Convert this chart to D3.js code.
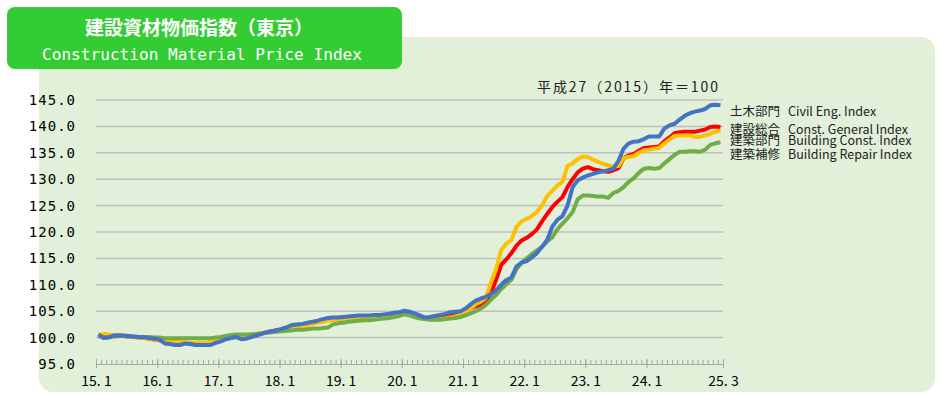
<!DOCTYPE html>
<html>
<head>
<meta charset="utf-8">
<script src="https://cdn.jsdelivr.net/npm/d3@7"></script>
<style>
  body { margin: 0; background: #fff; }
  svg { display: block; }
</style>
</head>
<body>
<script>
// monthly index, 2015.1 - 2025.3 (2015 = 100)
const startYear = 2015;
const monthCount = 123;

const civil = [
  100.6, 99.9, 100.0, 100.4, 100.4, 100.4, 100.3, 100.2, 100.1, 100.1, 99.9, 99.8,
  99.6, 98.9, 98.8, 98.6, 98.6, 98.9, 98.8, 98.6, 98.6, 98.6, 98.6, 99.0,
  99.3, 99.7, 99.9, 100.1, 99.7, 99.8, 100.1, 100.4, 100.7, 101.0, 101.2, 101.4,
  101.7, 102.0, 102.4, 102.5, 102.6, 102.8, 103.0, 103.2, 103.5, 103.7, 103.8, 103.8,
  103.9, 104.0, 104.1, 104.2, 104.2, 104.2, 104.3, 104.3, 104.4, 104.5, 104.7, 104.8,
  105.1, 104.9, 104.6, 104.2, 103.8, 103.9, 104.1, 104.3, 104.5, 104.8, 104.9, 105.0,
  105.5, 106.3, 107.0, 107.4, 107.7, 108.3, 109.0, 110.0, 110.9, 111.4, 113.5, 114.2,
  114.5, 115.2, 116.0, 117.2, 118.5, 121.0, 122.3, 123.0, 125.0, 128.5, 129.8, 130.3,
  130.7, 131.0, 131.3, 131.5, 131.7, 132.0, 133.5, 135.8, 136.8, 137.1, 137.2, 137.6,
  138.1, 138.1, 138.1, 139.6, 140.2, 140.5, 141.3, 142.0, 142.5, 142.8, 143.0, 143.3,
  144.0, 144.1, 144.0
];

const general = [
  100.5, 100.3, 100.3, 100.4, 100.4, 100.3, 100.2, 100.1, 100.0, 99.9, 99.8, 99.6,
  99.5, 99.2, 99.1, 99.1, 99.0, 99.0, 98.9, 98.9, 98.9, 98.9, 99.0, 99.2,
  99.5, 99.8, 100.0, 100.2, 100.3, 100.3, 100.5, 100.7, 100.8, 101.0, 101.2, 101.4,
  101.5, 101.8, 102.1, 102.3, 102.4, 102.6, 102.8, 103.0, 103.2, 103.4, 103.5, 103.6,
  103.7, 103.8, 103.9, 104.0, 104.0, 104.1, 104.1, 104.2, 104.2, 104.4, 104.5, 104.7,
  104.9, 104.7, 104.4, 104.0, 103.7, 103.7, 103.7, 103.8, 103.9, 104.1, 104.3, 104.6,
  105.2, 105.6, 105.9, 106.2, 106.6, 108.5, 111.0, 113.8, 114.8, 116.0, 117.4, 118.4,
  118.9, 119.6, 120.5, 122.0, 123.4, 124.7, 125.7, 126.6, 128.5, 130.0, 131.3, 132.0,
  132.3, 131.9, 131.7, 131.5, 131.4, 131.7, 132.1, 134.0, 134.5, 134.8, 135.4, 135.9,
  136.0, 136.1, 136.2, 137.2, 137.9, 138.7, 138.9, 139.0, 139.0, 139.0, 139.2, 139.4,
  139.9, 140.0, 139.9
];

const building = [
  100.5, 100.7, 100.6, 100.4, 100.4, 100.3, 100.2, 100.1, 100.0, 99.9, 99.8, 99.6,
  99.5, 99.3, 99.3, 99.3, 99.2, 99.1, 99.0, 99.0, 99.0, 99.0, 99.1, 99.3,
  99.6, 99.9, 100.1, 100.3, 100.4, 100.5, 100.6, 100.7, 100.8, 100.9, 101.1, 101.3,
  101.4, 101.7, 102.0, 102.2, 102.3, 102.4, 102.6, 102.8, 103.0, 103.2, 103.3, 103.4,
  103.5, 103.6, 103.7, 103.8, 103.8, 103.9, 103.9, 104.0, 104.0, 104.2, 104.3, 104.5,
  104.7, 104.5, 104.2, 103.9, 103.6, 103.5, 103.4, 103.5, 103.6, 103.8, 104.0, 104.3,
  105.0, 105.6, 106.3, 106.8, 107.5, 110.5, 113.0, 116.6, 117.8, 118.5, 121.0, 122.0,
  122.5, 123.0, 123.8, 125.0, 126.8, 127.8, 128.8, 129.5, 132.5, 133.0, 133.8, 134.3,
  134.2, 133.7, 133.3, 132.9, 132.6, 132.4, 132.5, 134.0, 134.2, 134.4, 135.0, 135.5,
  135.6, 135.8, 135.9, 136.8, 137.5, 138.2, 138.3, 138.3, 138.3, 138.0, 138.0, 138.3,
  138.6, 139.0, 139.2
];

const repair = [
  100.2, 100.1, 100.1, 100.2, 100.3, 100.3, 100.2, 100.1, 100.1, 100.0, 100.1, 100.0,
  100.0, 99.9, 99.9, 99.9, 99.9, 99.9, 99.9, 99.9, 99.9, 99.9, 99.9, 100.0,
  100.1, 100.3, 100.5, 100.6, 100.6, 100.6, 100.6, 100.7, 100.8, 100.9, 101.0, 101.1,
  101.2, 101.3, 101.4, 101.5, 101.5, 101.6, 101.7, 101.7, 101.8, 101.9, 102.5, 102.7,
  102.8, 103.0, 103.1, 103.2, 103.3, 103.3, 103.4, 103.5, 103.6, 103.7, 103.9, 104.1,
  104.4, 104.2, 103.9, 103.6, 103.5, 103.4, 103.4, 103.4, 103.5, 103.6, 103.7, 103.9,
  104.2, 104.6, 105.0, 105.5, 106.2, 107.2, 108.1, 109.2, 110.1, 111.0, 113.0, 114.2,
  115.0, 115.8, 116.5, 117.2, 118.2, 119.0, 120.5, 121.6, 122.6, 123.8, 126.2, 126.9,
  126.9, 126.8, 126.7, 126.7, 126.5, 127.4, 127.8, 128.5, 129.5, 130.2, 131.2, 132.0,
  132.1, 132.0, 132.1, 133.0, 133.8, 134.6, 135.2, 135.2, 135.3, 135.3, 135.2, 135.6,
  136.5, 136.8, 137.0
];

const seriesNames = ['建設総合', '建築部門', '建築補修', '土木部門'];
const legendLabels = [
  ['土木部門', 'Civil Eng. Index'],
  ['建設総合', 'Const. General  Index'],
  ['建築部門', 'Building Const. Index'],
  ['建築補修', 'Building Repair Index']
];
const xTickPos = [0, 12, 24, 36, 48, 60, 72, 84, 96, 108, 123];
const xTickLabels = ['15. 1', '16. 1', '17. 1', '18. 1', '19. 1', '20. 1', '21. 1', '22. 1', '23. 1', '24. 1', '25. 3'];
const yTicks = [95, 100, 105, 110, 115, 120, 125, 130, 135, 140, 145];

const width = 952;
const height = 395;
const cjk = '"Noto Sans CJK JP", "Noto Sans", sans-serif';

const svg = d3.select('body').append('svg')
  .attr('width', width)
  .attr('height', height);

// PANEL
svg.append('rect')
  .attr('x', 39).attr('y', 37)
  .attr('width', 896).attr('height', 355)
  .attr('rx', 14)
  .attr('fill', '#e2efd9');

// TITLE BOX
svg.append('rect')
  .attr('x', 7).attr('y', 7)
  .attr('width', 395).attr('height', 62)
  .attr('rx', 8)
  .attr('fill', '#33cc33');

svg.append('text')
  .attr('x', 199).attr('y', 35)
  .attr('text-anchor', 'middle')
  .attr('fill', '#fff')
  .attr('font-family', cjk)
  .attr('font-weight', 'bold')
  .attr('font-size', 19)
  .text('建設資材物価指数（東京）');

svg.append('text')
  .attr('x', 42).attr('y', 60)
  .attr('fill', '#fff')
  .attr('font-family', '"DejaVu Sans Mono", monospace')
  .attr('font-size', 16)
  .attr('textLength', 320)
  .attr('lengthAdjust', 'spacingAndGlyphs')
  .text('Construction Material Price Index');

// SCALES
const x = d3.scaleLinear().domain([0, monthCount]).range([96, 723]);
const y = d3.scaleLinear().domain([95, 145]).range([364, 100]);

// GRID
svg.append('g')
  .selectAll('line')
  .data(yTicks.slice(1))
  .join('line')
  .attr('x1', x(0)).attr('x2', x(monthCount))
  .attr('y1', d => y(d)).attr('y2', d => y(d))
  .attr('stroke', '#bfbfbf')
  .attr('stroke-width', 1.5);

// Y AXIS LABELS
const yAxis = d3.axisLeft(y)
  .tickValues(yTicks)
  .tickFormat(d3.format('.1f'))
  .tickSize(0)
  .tickPadding(0);

svg.append('g')
  .attr('transform', 'translate(76,0)')
  .call(yAxis)
  .call(g => g.select('.domain').remove())
  .call(g => g.selectAll('text')
    .attr('fill', '#000')
    .attr('font-family', '"DejaVu Sans Mono", monospace')
    .attr('font-size', 14)
    .attr('letter-spacing', 1));

// X AXIS
const minorAxis = d3.axisTop(x)
  .tickValues(d3.range(0, monthCount + 1))
  .tickFormat('')
  .tickSize(4)
  .tickSizeOuter(0);

svg.append('g')
  .attr('transform', `translate(0,${y(95)})`)
  .call(minorAxis)
  .call(g => g.select('.domain').attr('stroke', '#a6a6a6'))
  .call(g => g.selectAll('.tick line').attr('stroke', '#a6a6a6'));

const majorAxis = d3.axisBottom(x)
  .tickValues(xTickPos)
  .tickFormat((d, i) => xTickLabels[i])
  .tickSize(4)
  .tickPadding(8)
  .tickSizeOuter(0);

svg.append('g')
  .attr('transform', `translate(0,${y(95)})`)
  .call(majorAxis)
  .call(g => g.select('.domain').remove())
  .call(g => g.selectAll('.tick line').attr('stroke', '#a6a6a6').attr('y1', -5))
  .call(g => g.selectAll('text')
    .attr('fill', '#000')
    .attr('font-family', cjk)
    .attr('font-size', 14));

// LINES
const series = [
  { name: seriesNames[0], values: general, color: '#ff0000' },
  { name: seriesNames[1], values: building, color: '#ffc000' },
  { name: seriesNames[2], values: repair, color: '#70ad47' },
  { name: seriesNames[3], values: civil, color: '#4472c4' }
];

const line = d3.line()
  .x((d, i) => x(i + 0.5))
  .y(d => y(d));

svg.append('g')
  .selectAll('path')
  .data(series)
  .join('path')
  .attr('d', d => line(d.values))
  .attr('fill', 'none')
  .attr('stroke', d => d.color)
  .attr('stroke-width', 4)
  .attr('stroke-linejoin', 'round');

// BASE NOTE
svg.append('text')
  .attr('x', 718).attr('y', 92)
  .attr('text-anchor', 'end')
  .attr('font-family', cjk)
  .attr('font-size', 14)
  .attr('fill', '#222')
  .attr('textLength', 181)
  .text('平成27（2015）年＝100');

// LEGEND
const legendY = [116, 134, 145, 159];
const legend = svg.append('g')
  .selectAll('text')
  .data(legendLabels)
  .join('text')
  .attr('x', 730)
  .attr('y', (d, i) => legendY[i])
  .attr('font-family', cjk)
  .attr('font-size', 12.5)
  .attr('fill', '#222');

legend.append('tspan').text(d => d[0]);
legend.append('tspan').attr('x', 788).text(d => d[1]);
</script>
</body>
</html>
